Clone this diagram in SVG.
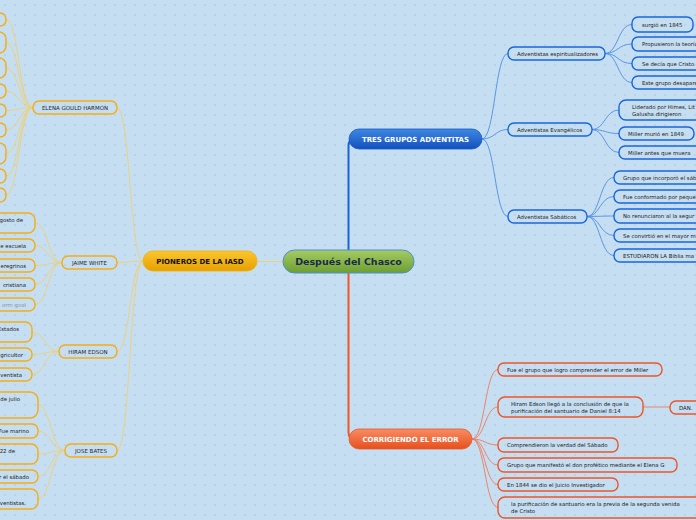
<svg xmlns="http://www.w3.org/2000/svg" width="696" height="520" viewBox="0 0 696 520">
<defs>
<pattern id="bgp" width="10" height="10" patternUnits="userSpaceOnUse">
<rect width="10" height="10" fill="#c6def1"/>
<path d="M5,4 V6 M4,5 H6" stroke="#b3cbe2" stroke-width="0.8"/>
</pattern>
<linearGradient id="gMain" x1="0" y1="0" x2="0" y2="1"><stop offset="0" stop-color="#a6cc62"/><stop offset="1" stop-color="#6c9e34"/></linearGradient>
<linearGradient id="gY" x1="0" y1="0" x2="0" y2="1"><stop offset="0" stop-color="#fbc62e"/><stop offset="1" stop-color="#e6a002"/></linearGradient>
<linearGradient id="gB" x1="0" y1="0" x2="0" y2="1"><stop offset="0" stop-color="#3e88e2"/><stop offset="1" stop-color="#1250bc"/></linearGradient>
<linearGradient id="gR" x1="0" y1="0" x2="0" y2="1"><stop offset="0" stop-color="#f98c62"/><stop offset="1" stop-color="#e5501e"/></linearGradient>
</defs>
<style>
text{font-family:"DejaVu Sans","Verdana",sans-serif;}
.lf{font-size:5.4px;fill:#222;}
.br{font-size:5.5px;fill:#222;text-anchor:middle;}
.l1{font-size:7px;font-weight:bold;text-anchor:middle;}
.ybox{fill:none;stroke:#f6ad12;stroke-width:1.4;}
.bbox{fill:none;stroke:#1866dc;stroke-width:1.4;}
.rbox{fill:none;stroke:#ee5427;stroke-width:1.4;}
.yc{fill:none;stroke:#efcf72;stroke-width:0.9;}
.bc{fill:none;stroke:#4f8fe3;stroke-width:0.9;}
.rc{fill:none;stroke:#ef7a5c;stroke-width:0.9;}
</style>
<rect width="696" height="520" fill="url(#bgp)"/>

<g id="connectors">
<path d="M348.5,250 V146 Q348.5,139 355,139" fill="none" stroke="#1a62d6" stroke-width="2"/>
<path d="M348.5,273 V432 Q348.5,439 355,439" fill="none" stroke="#ef5526" stroke-width="2"/>
<path class="yc" d="M283,261.5 H257"/>
<path class="yc" d="M143,261 C130,261 130,107.5 117,107.5"/>
<path class="yc" d="M143,261 C130,261 130,262.5 117,262.5"/>
<path class="yc" d="M143,261 C130,261 130,351.5 117,351.5"/>
<path class="yc" d="M143,261 C130,261 130,450.5 117,450.5"/>
<path class="yc" d="M33,107.5 C19,107.5 19,19.5 6,19.5"/>
<path class="yc" d="M33,107.5 C19,107.5 19,42.5 6,42.5"/>
<path class="yc" d="M33,107.5 C19,107.5 19,68 6,68"/>
<path class="yc" d="M33,107.5 C19,107.5 19,91 6,91"/>
<path class="yc" d="M33,107.5 C19,107.5 19,110.5 6,110.5"/>
<path class="yc" d="M33,107.5 C19,107.5 19,130 6,130"/>
<path class="yc" d="M33,107.5 C19,107.5 19,153.5 6,153.5"/>
<path class="yc" d="M33,107.5 C19,107.5 19,176 6,176"/>
<path class="yc" d="M33,107.5 C19,107.5 19,195 6,195"/>
<path class="yc" d="M62,262.5 C48,262.5 48,223 35,223"/>
<path class="yc" d="M62,262.5 C48,262.5 48,245.5 35,245.5"/>
<path class="yc" d="M62,262.5 C48,262.5 48,265.5 35,265.5"/>
<path class="yc" d="M62,262.5 C48,262.5 48,284.5 35,284.5"/>
<path class="yc" d="M62,262.5 C48,262.5 48,304.5 35,304.5"/>
<path class="yc" d="M59,351.5 C45,351.5 45,332 32,332"/>
<path class="yc" d="M59,351.5 C45,351.5 45,354.5 32,354.5"/>
<path class="yc" d="M59,351.5 C45,351.5 45,374.5 32,374.5"/>
<path class="yc" d="M65,450.5 C51,450.5 51,405 38,405"/>
<path class="yc" d="M65,450.5 C51,450.5 51,431 38,431"/>
<path class="yc" d="M65,450.5 C51,450.5 51,454 38,454"/>
<path class="yc" d="M65,450.5 C51,450.5 51,476.5 38,476.5"/>
<path class="yc" d="M65,450.5 C51,450.5 51,499 38,499"/>
<path class="bc" d="M482,139 C495,139 495,53.5 508,53.5"/>
<path class="bc" d="M482,139 C495,139 495,129.5 508,129.5"/>
<path class="bc" d="M482,139 C495,139 495,216.5 508,216.5"/>
<path class="bc" d="M605,53.5 C618,53.5 618,24.5 632,24.5"/>
<path class="bc" d="M605,53.5 C618,53.5 618,44 632,44"/>
<path class="bc" d="M605,53.5 C618,53.5 618,63.5 632,63.5"/>
<path class="bc" d="M605,53.5 C618,53.5 618,82.5 632,82.5"/>
<path class="bc" d="M592,129.5 C605,129.5 605,110 619,110"/>
<path class="bc" d="M592,129.5 C605,129.5 605,133.5 619,133.5"/>
<path class="bc" d="M592,129.5 C605,129.5 605,152.5 619,152.5"/>
<path class="bc" d="M587,216.5 C600,216.5 600,177.5 614,177.5"/>
<path class="bc" d="M587,216.5 C600,216.5 600,196.5 614,196.5"/>
<path class="bc" d="M587,216.5 C600,216.5 600,216 614,216"/>
<path class="bc" d="M587,216.5 C600,216.5 600,235.5 614,235.5"/>
<path class="bc" d="M587,216.5 C600,216.5 600,255.5 614,255.5"/>
<path class="rc" d="M472,439 C485,439 485,369.5 498,369.5"/>
<path class="rc" d="M472,439 C485,439 485,407 498,407"/>
<path class="rc" d="M472,439 C485,439 485,445 498,445"/>
<path class="rc" d="M472,439 C485,439 485,465 498,465"/>
<path class="rc" d="M472,439 C485,439 485,484.5 498,484.5"/>
<path class="rc" d="M472,439 C485,439 485,507.5 498,507.5"/>
<path class="rc" d="M643,407 H670"/>
</g>

<g id="main"><rect x="283" y="250" width="131" height="23" rx="11.5" fill="url(#gMain)" stroke="#4d8fd0" stroke-width="1"/><text x="348.5" y="265" text-anchor="middle" font-size="9.5" font-weight="bold" fill="#1a2a48">Después del Chasco</text></g>

<g id="pioneros"><rect x="143" y="251" width="114" height="20" rx="10" fill="url(#gY)" stroke="#f1b000" stroke-width="0.8"/><text class="l1" x="200" y="263.5" fill="#111">PIONEROS DE LA IASD</text></g>
<g id="tres"><rect x="349" y="129" width="133" height="20" rx="10" fill="url(#gB)" stroke="#1458c8" stroke-width="0.8"/><text class="l1" x="415.5" y="141.5" fill="#fff">TRES GRUPOS ADVENTITAS</text></g>
<g id="corrigiendo"><rect x="349" y="429" width="123" height="20" rx="10" fill="url(#gR)" stroke="#e8562a" stroke-width="0.8"/><text class="l1" x="410.5" y="441.5" fill="#fff">CORRIGIENDO EL ERROR</text></g>

<g id="elena"><rect class="ybox" x="33" y="101" width="84" height="13" rx="6"/><text class="br" x="75" y="109.5">ELENA GOULD HARMÓN</text></g>
<g id="jaime"><rect class="ybox" x="62" y="256" width="55" height="13" rx="6"/><text class="br" x="89.5" y="264.5">JAIME WHITE</text></g>
<g id="hiram"><rect class="ybox" x="59" y="345" width="58" height="13" rx="6"/><text class="br" x="88" y="353.5">HIRAM EDSON</text></g>
<g id="jose"><rect class="ybox" x="65" y="444" width="52" height="13" rx="6"/><text class="br" x="91" y="452.5">JOSE BATES</text></g>

<g id="elena-leaves">
<rect class="ybox" x="-60" y="13" width="66" height="13" rx="6"/>
<rect class="ybox" x="-60" y="32" width="66" height="21" rx="7"/>
<rect class="ybox" x="-60" y="58" width="66" height="20" rx="7"/>
<rect class="ybox" x="-60" y="84" width="66" height="14" rx="6"/>
<rect class="ybox" x="-60" y="104" width="66" height="13" rx="6"/>
<rect class="ybox" x="-60" y="123" width="66" height="14" rx="6"/>
<rect class="ybox" x="-60" y="143" width="66" height="21" rx="7"/>
<rect class="ybox" x="-60" y="169" width="66" height="14" rx="6"/>
<rect class="ybox" x="-60" y="188" width="66" height="14" rx="6"/>
</g>
<g id="jaime-leaves">
<g><rect class="ybox" x="-60" y="213" width="95" height="20" rx="7"/><text class="lf" x="23" y="222" text-anchor="end">gosto de</text></g>
<g><rect class="ybox" x="-60" y="239" width="95" height="13" rx="6"/><text class="lf" x="26" y="247.5" text-anchor="end">e escuela</text></g>
<g><rect class="ybox" x="-60" y="259" width="95" height="13" rx="6"/><text class="lf" x="26" y="267.5" text-anchor="end">eregrinos</text></g>
<g><rect class="ybox" x="-60" y="278" width="95" height="13" rx="6"/><text class="lf" x="26" y="286.5" text-anchor="end">cristiana</text></g>
<g><rect class="ybox" x="-60" y="298" width="95" height="13" rx="6"/><text class="lf" x="26" y="306.5" text-anchor="end" style="fill:#8a96a6">orm goal</text></g>
</g>
<g id="hiram-leaves">
<g><rect class="ybox" x="-60" y="322" width="92" height="20" rx="7"/><text class="lf" x="19" y="331" text-anchor="end">Estados</text></g>
<g><rect class="ybox" x="-60" y="348" width="92" height="13" rx="6"/><text class="lf" x="23" y="356.5" text-anchor="end">gricultor</text></g>
<g><rect class="ybox" x="-60" y="368" width="92" height="13" rx="6"/><text class="lf" x="22" y="376.5" text-anchor="end">ventista</text></g>
</g>
<g id="jose-leaves">
<g><rect class="ybox" x="-60" y="392" width="98" height="26" rx="8"/><text class="lf" x="20" y="401" text-anchor="end">de julio</text></g>
<g><rect class="ybox" x="-60" y="424" width="98" height="14" rx="6"/><text class="lf" x="29" y="433" text-anchor="end">Fue marino</text></g>
<g><rect class="ybox" x="-60" y="444" width="98" height="20" rx="7"/><text class="lf" x="15" y="453" text-anchor="end">22 de</text></g>
<g><rect class="ybox" x="-60" y="470" width="98" height="13" rx="6"/><text class="lf" x="29" y="478.5" text-anchor="end">r el sábado</text></g>
<g><rect class="ybox" x="-60" y="489" width="98" height="20" rx="7"/><text class="lf" x="26" y="505" text-anchor="end">ventistas.</text></g>
</g>

<g id="espiritualizadores"><rect class="bbox" x="508" y="47" width="97" height="13" rx="6"/><text class="lf" x="517" y="55.5">Adventistas espiritualizadores</text></g>
<g id="evangelicos"><rect class="bbox" x="508" y="123" width="84" height="13" rx="6"/><text class="lf" x="517" y="131.5">Adventistas Evangélicos</text></g>
<g id="sabaticos"><rect class="bbox" x="508" y="210" width="79" height="13" rx="6"/><text class="lf" x="517" y="218.5">Adventistas Sabáticos</text></g>

<g id="esp-leaves">
<g><rect class="bbox" x="632" y="17" width="61" height="15" rx="6"/><text class="lf" x="642" y="26.5">surgió en 1845</text></g>
<g><rect class="bbox" x="632" y="37" width="100" height="14" rx="6"/><text class="lf" x="642" y="46">Propusieron la teoría</text></g>
<g><rect class="bbox" x="632" y="57" width="100" height="13" rx="6"/><text class="lf" x="642" y="65.5">Se decía que Cristo</text></g>
<g><rect class="bbox" x="632" y="76" width="100" height="13" rx="6"/><text class="lf" x="642" y="84.5">Este grupo desaparec</text></g>
</g>
<g id="evang-leaves">
<g><rect class="bbox" x="619" y="100" width="100" height="20" rx="7"/><text class="lf" x="632" y="109">Liderado por Himes, Lit</text><text class="lf" x="632" y="115.5">Galusha dirigieron</text></g>
<g><rect class="bbox" x="619" y="127" width="75" height="13" rx="6"/><text class="lf" x="628" y="135.5">Miller murió en 1849</text></g>
<g><rect class="bbox" x="619" y="146" width="100" height="13" rx="6"/><text class="lf" x="628" y="154.5">Miller antes que muera</text></g>
</g>
<g id="sab-leaves">
<g><rect class="bbox" x="614" y="171" width="100" height="13" rx="6"/><text class="lf" x="623" y="179.5">Grupo que incorporó el sáb</text></g>
<g><rect class="bbox" x="614" y="190" width="100" height="13" rx="6"/><text class="lf" x="623" y="198.5">Fue conformado por peque</text></g>
<g><rect class="bbox" x="614" y="209" width="100" height="14" rx="6"/><text class="lf" x="623" y="218">No renunciaron al la segur</text></g>
<g><rect class="bbox" x="614" y="229" width="100" height="13" rx="6"/><text class="lf" x="623" y="237.5">Se convirtió en el mayor m</text></g>
<g><rect class="bbox" x="614" y="249" width="100" height="13" rx="6"/><text class="lf" x="623" y="257.5">ESTUDIARON LA Biblia ma</text></g>
</g>

<g id="error-leaves">
<g><rect class="rbox" x="498" y="363" width="164" height="13" rx="6"/><text class="lf" x="507" y="371.5">Fue el grupo que logro comprender el error de Miller</text></g>
<g><rect class="rbox" x="498" y="397" width="145" height="20" rx="7"/><text class="lf" x="511" y="406">Hiram Edson llegó a la conclusión de que la</text><text class="lf" x="511" y="412.5">purificación del santuario de Daniel 8:14</text></g>
<g id="dan"><rect class="rbox" x="670" y="401" width="60" height="13" rx="6"/><text class="lf" x="679" y="409.5">DAN.</text></g>
<g><rect class="rbox" x="498" y="438" width="120" height="14" rx="6"/><text class="lf" x="507" y="447">Comprendieron la verdad del Sábado</text></g>
<g><rect class="rbox" x="498" y="458" width="179" height="14" rx="6"/><text class="lf" x="507" y="467">Grupo que manifestó el don profético mediante el Elena G</text></g>
<g><rect class="rbox" x="498" y="478" width="120" height="13" rx="6"/><text class="lf" x="507" y="486.5">En 1844 se dio el Juicio Investigador</text></g>
<g><rect class="rbox" x="498" y="497" width="220" height="21" rx="7"/><text class="lf" x="511" y="506">la purificación de santuario era la previa de la segunda venida</text><text class="lf" x="511" y="512.5">de Cristo</text></g>
</g>
</svg>
